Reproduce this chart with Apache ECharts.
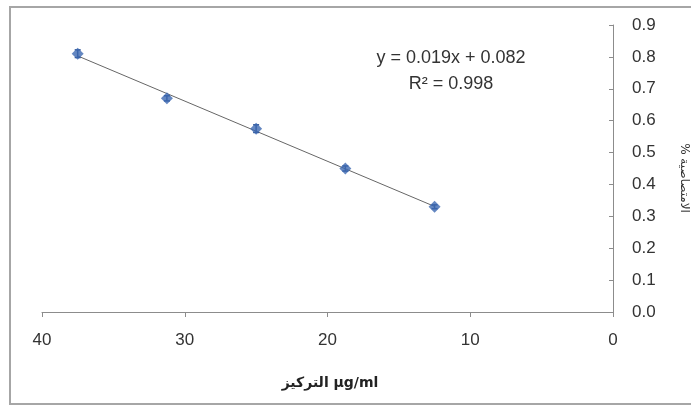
<!DOCTYPE html>
<html>
<head>
<meta charset="utf-8">
<script src="https://cdn.jsdelivr.net/npm/echarts@6/dist/echarts.min.js"></script>
<style>
  html, body { margin: 0; padding: 0; background: #fff; }
  #chart { width: 691px; height: 406px; }
</style>
</head>
<body>
<div id="chart"></div>
<script>
// concentration (µg/ml) and absorbance
const conc = [37.5, 31.25, 25, 18.75, 12.5]
const absorb = [0.81, 0.67, 0.575, 0.45, 0.33]
const errs = [0.012, 0.008, 0.012, 0.008, 0.006]
const xTicks = [0, 10, 20, 30, 40]
const yTicks = [0, 0.1, 0.2, 0.3, 0.4, 0.5, 0.6, 0.7, 0.8, 0.9]
const eqText = 'y = 0.019x + 0.082'
const r2Text = 'R² = 0.998'

// least squares fit for trendline
const n = conc.length
const mx = conc.reduce((a, b) => a + b, 0) / n
const my = absorb.reduce((a, b) => a + b, 0) / n
let sxy = 0, sxx = 0
conc.forEach((x, i) => {
  sxy += (x - mx) * (absorb[i] - my)
  sxx += (x - mx) * (x - mx)
})
const slope = sxy / sxx
const icpt = my - slope * mx
const xLo = Math.min(...conc)
const xHi = Math.max(...conc)

var myChart = echarts.init(document.getElementById('chart'))
const font = 'Liberation Sans, Arial, DejaVu Sans, sans-serif'

let option = {
  animation: false,
  textStyle: { fontFamily: font },
  grid: { left: 42, right: 78, top: 25, bottom: 94 },
  xAxis: {
    type: 'value',
    inverse: true,
    min: xTicks[0],
    max: xTicks[xTicks.length - 1],
    interval: 10,
    axisLine: { lineStyle: { color: '#8c8c8c' } },
    axisTick: { lineStyle: { color: '#8c8c8c' }, length: 5 },
    axisLabel: { color: '#333', fontSize: 17, margin: 20 },
    splitLine: { show: false },
  },
  yAxis: {
    type: 'value',
    position: 'right',
    min: yTicks[0],
    max: yTicks[yTicks.length - 1],
    interval: 0.1,
    axisLine: { show: true, onZero: false, lineStyle: { color: '#8c8c8c' } },
    axisTick: { show: true, inside: true, length: 4, lineStyle: { color: '#8c8c8c' } },
    axisLabel: {
      color: '#333',
      fontSize: 17,
      margin: 19,
      formatter: (v) => v.toFixed(1),
    },
    splitLine: { show: false },
  },
  graphic: [
    {
      type: 'rect',
      shape: { x: 10, y: 7, width: 690, height: 397 },
      style: { fill: 'none', stroke: '#a6a6a6', lineWidth: 2 },
      silent: true,
    },
    {
      type: 'text',
      x: 451, y: 58,
      style: { text: eqText, fill: '#333', font: '18px ' + font, align: 'center', verticalAlign: 'middle' },
    },
    {
      type: 'text',
      x: 451, y: 84,
      style: { text: r2Text, fill: '#333', font: '18px ' + font, align: 'center', verticalAlign: 'middle' },
    },
    {
      type: 'text',
      x: 330, y: 383,
      style: { text: 'التركيز µg/ml', fill: '#222', font: 'bold 14px DejaVu Sans, sans-serif', align: 'center', verticalAlign: 'middle' },
    },
    {
      type: 'text',
      x: 684, y: 178,
      rotation: -Math.PI / 2,
      style: { text: '% الامتصاصية', fill: '#333', font: '12px DejaVu Sans, sans-serif', align: 'center', verticalAlign: 'middle' },
    },
  ],
  series: [
    {
      name: 'trend',
      type: 'line',
      data: [[xHi, slope * xHi + icpt], [xLo, slope * xLo + icpt]],
      symbol: 'none',
      lineStyle: { color: '#666', width: 1 },
      z: 2,
    },
    {
      name: 'err',
      type: 'custom',
      data: conc.map((x, i) => [x, absorb[i], errs[i]]),
      renderItem: function (params, api) {
        const x = api.value(0)
        const y = api.value(1)
        const e = api.value(2)
        const top = api.coord([x, y + e])
        const bot = api.coord([x, y - e])
        const style = { stroke: '#2f5597', lineWidth: 1.5 }
        return {
          type: 'group',
          children: [
            { type: 'line', shape: { x1: top[0], y1: top[1], x2: bot[0], y2: bot[1] }, style },
            { type: 'line', shape: { x1: top[0] - 3, y1: top[1], x2: top[0] + 3, y2: top[1] }, style },
            { type: 'line', shape: { x1: bot[0] - 3, y1: bot[1], x2: bot[0] + 3, y2: bot[1] }, style },
          ],
        }
      },
      z: 3,
    },
    {
      name: 'absorb',
      type: 'scatter',
      data: conc.map((x, i) => [x, absorb[i]]),
      symbol: 'diamond',
      symbolSize: 12,
      itemStyle: { color: '#3d69b1' },
      z: 4,
    },
  ],
}
myChart.setOption(option)
</script>
</body>
</html>
